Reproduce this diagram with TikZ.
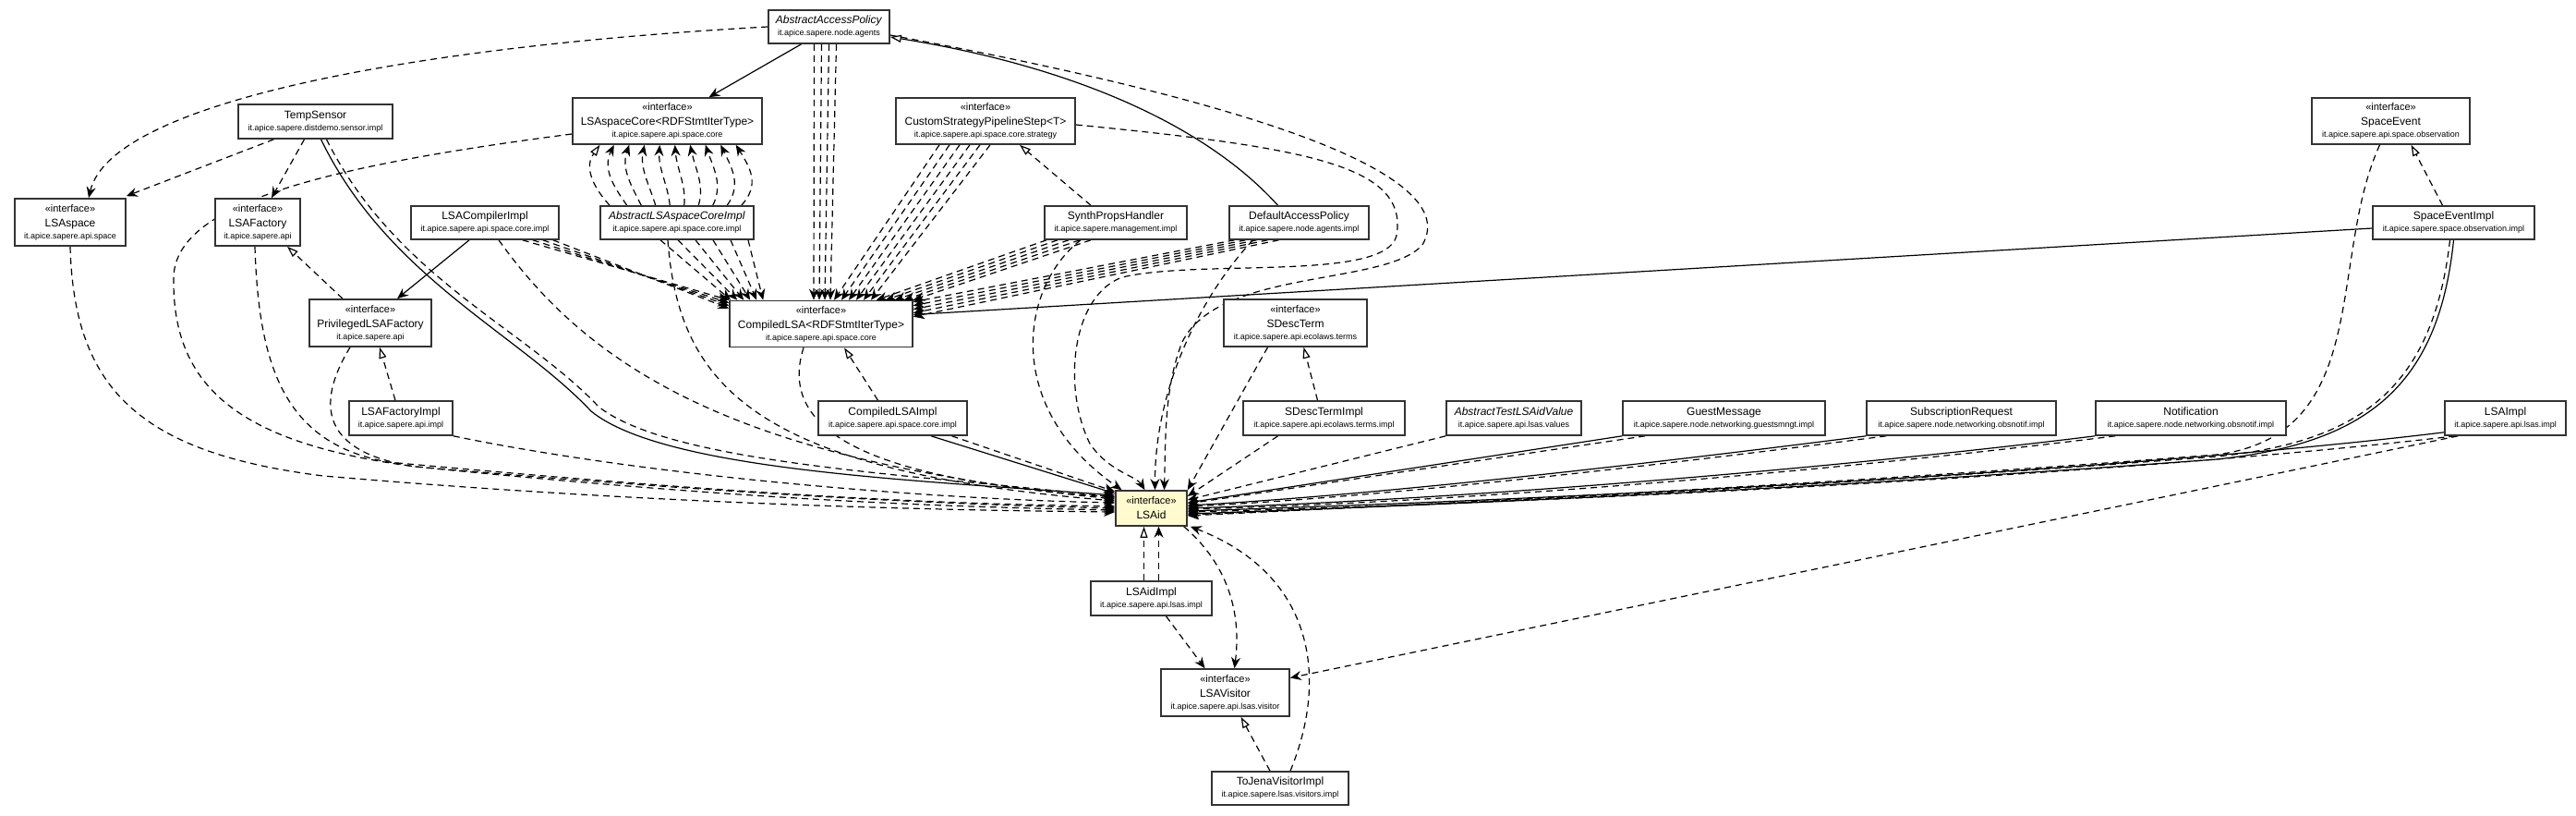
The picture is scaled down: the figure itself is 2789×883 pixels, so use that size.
\documentclass[tikz,border=0pt]{standalone}
\usepackage{fontspec}
\setmainfont{Liberation Sans}
\usetikzlibrary{arrows.meta}
\definecolor{lsaidfill}{RGB}{255,251,206}
\pgfdeclarelayer{bg}
\pgfsetlayers{bg,main}
\newcommand{\ifc}{{\fontsize{11}{12}\selectfont «interface»}}
\newcommand{\pkg}[1]{{\fontsize{9}{10}\selectfont #1}}
\tikzset{
  cls/.style={draw=black!80, line width=1.6pt, fill=white, inner sep=0pt, align=center, font=\fontsize{12}{13}\selectfont},
  dep/.style={dash pattern=on 7pt off 5pt, line width=1.2pt, -{Stealth[length=12pt,width=10pt,inset=4pt]}},
  real/.style={dash pattern=on 7pt off 5pt, line width=1.2pt, -{Triangle[open,length=12pt,width=8pt,fill=white]}},
  gen/.style={line width=1.2pt, -{Triangle[open,length=12pt,width=8pt,fill=white]}},
  assoc/.style={line width=1.2pt, -{Stealth[length=12pt,width=10pt,inset=4pt]}},
  solidln/.style={line width=1.2pt, -{Stealth[length=12pt,width=10pt,inset=4pt]}}
}
\begin{document}
\begin{tikzpicture}[x=1pt,y=-1pt]
\useasboundingbox (0,0) rectangle (2789,883);
% ---------------- nodes ----------------
\node[cls, minimum width=131pt, minimum height=36pt] (aap) at (897.5,29) {\textit{AbstractAccessPolicy}\\\pkg{it.apice.sapere.node.agents}};
\node[cls, minimum width=205pt, minimum height=50pt] (lsacore) at (722.5,131) {\ifc\\[3pt]LSAspaceCore<RDFStmtIterType>\\\pkg{it.apice.sapere.api.space.core}};
\node[cls, minimum width=194pt, minimum height=50pt] (csps) at (1067,131) {\ifc\\[3pt]CustomStrategyPipelineStep<T>\\\pkg{it.apice.sapere.api.space.core.strategy}};
\node[cls, minimum width=171pt, minimum height=50pt] (se) at (2588.5,131) {\ifc\\[3pt]SpaceEvent\\\pkg{it.apice.sapere.api.space.observation}};
\node[cls, minimum width=167pt, minimum height=37pt] (tsensor) at (341.5,131.5) {TempSensor\\\pkg{it.apice.sapere.distdemo.sensor.impl}};
\node[cls, minimum width=120pt, minimum height=51pt] (lsaspace) at (76,240.5) {\ifc\\[3pt]LSAspace\\\pkg{it.apice.sapere.api.space}};
\node[cls, minimum width=92pt, minimum height=51pt] (lsafactory) at (279,240.5) {\ifc\\[3pt]LSAFactory\\\pkg{it.apice.sapere.api}};
\node[cls, minimum width=160pt, minimum height=36pt] (lsaci) at (525,241) {LSACompilerImpl\\\pkg{it.apice.sapere.api.space.core.impl}};
\node[cls, minimum width=166pt, minimum height=36pt] (alsci) at (733,241) {\textit{AbstractLSAspaceCoreImpl}\\\pkg{it.apice.sapere.api.space.core.impl}};
\node[cls, minimum width=154pt, minimum height=36pt] (sph) at (1208,241) {SynthPropsHandler\\\pkg{it.apice.sapere.management.impl}};
\node[cls, minimum width=151pt, minimum height=36pt] (dap) at (1406.5,241) {DefaultAccessPolicy\\\pkg{it.apice.sapere.node.agents.impl}};
\node[cls, minimum width=175pt, minimum height=36pt] (sei) at (2656.5,241) {SpaceEventImpl\\\pkg{it.apice.sapere.space.observation.impl}};
\node[cls, minimum width=132pt, minimum height=51pt] (plf) at (401,349.5) {\ifc\\[3pt]PrivilegedLSAFactory\\\pkg{it.apice.sapere.api}};
\node[cls, minimum width=198pt, minimum height=50pt] (cl) at (889,350.5) {\ifc\\[3pt]CompiledLSA<RDFStmtIterType>\\\pkg{it.apice.sapere.api.space.core}};
\node[cls, minimum width=155pt, minimum height=51pt] (sdt) at (1402.5,349.5) {\ifc\\[3pt]SDescTerm\\\pkg{it.apice.sapere.api.ecolaws.terms}};
\node[cls, minimum width=112pt, minimum height=37pt] (lsafi) at (434,452.5) {LSAFactoryImpl\\\pkg{it.apice.sapere.api.impl}};
\node[cls, minimum width=161pt, minimum height=37pt] (cli) at (966.5,452.5) {CompiledLSAImpl\\\pkg{it.apice.sapere.api.space.core.impl}};
\node[cls, minimum width=175pt, minimum height=37pt] (sdti) at (1433.5,452.5) {SDescTermImpl\\\pkg{it.apice.sapere.api.ecolaws.terms.impl}};
\node[cls, minimum width=146pt, minimum height=37pt] (atlv) at (1639,452.5) {\textit{AbstractTestLSAidValue}\\\pkg{it.apice.sapere.api.lsas.values}};
\node[cls, minimum width=219pt, minimum height=37pt] (gm) at (1866.5,452.5) {GuestMessage\\\pkg{it.apice.sapere.node.networking.guestsmngt.impl}};
\node[cls, minimum width=205pt, minimum height=37pt] (sr) at (2123.5,452.5) {SubscriptionRequest\\\pkg{it.apice.sapere.node.networking.obsnotif.impl}};
\node[cls, minimum width=206pt, minimum height=37pt] (notif) at (2372,452.5) {Notification\\\pkg{it.apice.sapere.node.networking.obsnotif.impl}};
\node[cls, minimum width=131pt, minimum height=37pt] (lsaimpl) at (2712.5,452.5) {LSAImpl\\\pkg{it.apice.sapere.api.lsas.impl}};
\node[cls, fill=lsaidfill, minimum width=77pt, minimum height=38pt] (lsaid) at (1246.5,550) {\ifc\\[3pt]LSAid};
\node[cls, minimum width=131pt, minimum height=37pt] (lsaidimpl) at (1246.5,647.5) {LSAidImpl\\\pkg{it.apice.sapere.api.lsas.impl}};
\node[cls, minimum width=139pt, minimum height=51pt] (lsav) at (1326.5,749.5) {\ifc\\[3pt]LSAVisitor\\\pkg{it.apice.sapere.api.lsas.visitor}};
\node[cls, minimum width=148pt, minimum height=36pt] (tj) at (1386,853) {ToJenaVisitorImpl\\\pkg{it.apice.sapere.lsas.visitors.impl}};
% ---------------- edges ----------------
\begin{pgfonlayer}{bg}
% top area
\draw[assoc] ([xshift=-30pt]aap.south) -- ([xshift=45pt]lsacore.north);
\draw[gen] ([xshift=-23pt]dap.north) .. controls (1300,130) and (1150,70) .. ([yshift=-11pt]aap.east);
\draw[dep] (aap.west) .. controls (450,50) and (120,110) .. ([xshift=20pt]lsaspace.north);
\foreach \k in {0,...,3}{
  \pgfmathsetmacro\sx{-16+8*\k}
  \pgfmathsetmacro\ex{-8+6*\k}
  \draw[dep] ([xshift=\sx pt]aap.south) -- ([xshift=\ex pt]cl.north);
}
% swings into LSAid
\draw[dep] ([yshift=-9pt]aap.east) .. controls (1300,100) and (1590,180) .. (1540,265) .. controls (1500,310) and (1320,290) .. (1280,370) .. controls (1260,420) and (1262,480) .. ([xshift=14pt]lsaid.north);
\draw[dep] ([yshift=-4pt]csps.east) .. controls (1420,160) and (1525,180) .. (1512,255) .. controls (1500,305) and (1300,280) .. (1215,300) .. controls (1160,320) and (1150,420) .. (1180,480) .. controls (1200,510) and (1230,515) .. ([xshift=-7pt]lsaid.north);
\draw[dep] ([xshift=-38pt]sph.south) .. controls (1105,310) and (1085,440) .. ([xshift=-32pt]lsaid.north);
\draw[dep] ([xshift=-50pt]dap.south) .. controls (1300,320) and (1250,420) .. ([xshift=4pt]lsaid.north);
\draw[dep] ([xshift=-30pt]sdt.south) -- (lsaid.north east);
% TempSensor
\draw[dep] ([xshift=-45pt]tsensor.south) -- ([yshift=2pt]lsaspace.north east);
\draw[dep] ([xshift=-12pt]tsensor.south) -- ([xshift=15pt]lsafactory.north);
\draw[solidln] ([xshift=6pt]tsensor.south) .. controls (420,300) and (560,360) .. (640,445) .. controls (720,510) and (1000,520) .. ([yshift=14pt]lsaid.west);
\draw[dep] ([xshift=12pt]tsensor.south) .. controls (428,300) and (568,355) .. (648,440) .. controls (728,503) and (1000,514) .. ([yshift=12pt]lsaid.west);
% long left curves into LSAid
\draw[dep] ([yshift=-14pt]lsacore.west) .. controls (350,180) and (190,220) .. (188,300) .. controls (186,420) and (260,480) .. (450,505) .. controls (800,540) and (1000,548) .. ([yshift=-2pt]lsaid.west);
\draw[dep] (lsaspace.south) .. controls (80,420) and (150,490) .. (350,515) .. controls (700,545) and (1000,552) .. ([yshift=-4pt]lsaid.west);
\draw[dep] ([xshift=-3pt]lsafactory.south) .. controls (280,400) and (310,480) .. (420,500) .. controls (800,535) and (1000,545) .. ([yshift=2pt]lsaid.west);
\draw[dep] ([xshift=-22pt]plf.south) .. controls (340,440) and (350,490) .. (450,505) .. controls (800,535) and (1000,545) .. (lsaid.west);
\draw[dep] (lsafi.south east) .. controls (700,515) and (1000,540) .. ([yshift=6pt]lsaid.west);
\draw[dep] ([xshift=15pt]lsaci.south) .. controls (640,400) and (800,500) .. ([yshift=10pt]lsaid.west);
\draw[dep] ([xshift=-10pt]alsci.south) .. controls (735,420) and (820,510) .. ([yshift=8pt]lsaid.west);
\draw[dep] ([xshift=-19pt]cl.south) .. controls (840,470) and (950,520) .. ([yshift=12pt]lsaid.west);
\draw[solidln] ([xshift=41.5pt]cli.south) -- ([yshift=16pt]lsaid.west);
\draw[dep] ([xshift=64pt]cli.south) -- ([yshift=18pt]lsaid.west);
% factory side
\draw[assoc] ([xshift=-17pt]lsaci.south) -- ([xshift=29pt]plf.north);
\draw[real] ([xshift=-30pt]plf.north) -- ([xshift=32pt]lsafactory.south);
\draw[real] ([xshift=-6pt]lsafi.north) -- ([xshift=10pt]plf.south);
% realizations
\draw[real] ([xshift=-16pt]cli.north) -- ([xshift=25pt]cl.south);
\draw[real] ([xshift=-27pt]sph.north) -- ([xshift=37pt]csps.south);
\draw[real] ([xshift=-12pt]sei.north) -- ([xshift=22pt]se.south);
\draw[real] ([xshift=-7pt]sdti.north) -- ([xshift=9pt]sdt.south);
% AbstractLSAspaceCoreImpl -> LSAspaceCore
\draw[real] ([xshift=-73pt]alsci.north) .. controls (640,200) and (633,180) .. ([xshift=-73pt]lsacore.south);
\foreach \i in {1,...,9}{
  \pgfmathsetmacro\d{\i-4.5}
  \pgfmathsetmacro\sx{15.5*\d}
  \pgfmathsetmacro\ex{16.5*\d}
  \pgfmathsetmacro\cxa{733+20*\d}
  \pgfmathsetmacro\cxb{722.5+20*\d}
  \draw[dep] ([xshift=\sx pt]alsci.north) .. controls (\cxa,200) and (\cxb,182) .. ([xshift=\ex pt]lsacore.south);
}
% into CompiledLSA
\foreach \k in {0,...,5}{
  \pgfmathsetmacro\sx{-18+19*\k}
  \pgfmathsetmacro\ex{2+7*\k}
  \draw[dep] ([xshift=\sx pt]alsci.south) -- ([xshift=\ex pt]cl.north west);
}
\foreach \k in {0,...,3}{
  \pgfmathsetmacro\sx{-40+11*\k}
  \pgfmathsetmacro\ey{-3*\k}
  \draw[dep] ([xshift=\sx pt]lsaci.south east) -- ([yshift=\ey pt]cl.north west);
}
\foreach \k in {0,...,5}{
  \pgfmathsetmacro\sx{-50+11*\k}
  \pgfmathsetmacro\ex{14+8*\k}
  \draw[dep] ([xshift=\sx pt]csps.south) -- ([xshift=\ex pt]cl.north);
}
\foreach \k in {0,...,4}{
  \pgfmathsetmacro\sx{-75+12*\k}
  \pgfmathsetmacro\ex{-40+10*\k}
  \draw[dep] ([xshift=\sx pt]sph.south) -- ([xshift=\ex pt]cl.north east);
}
\foreach \k in {0,...,4}{
  \pgfmathsetmacro\sx{-70+12*\k}
  \pgfmathsetmacro\ey{-2-4*\k}
  \draw[dep] ([xshift=\sx pt]dap.south) -- ([yshift=\ey pt]cl.north east);
}
\draw[assoc] ([yshift=-6pt]sei.west) -- ([yshift=10pt]cl.east);
% right side into LSAid
\draw[dep] ([xshift=-50pt]sdti.south) -- ([yshift=13pt]lsaid.east);
\draw[dep] (atlv.south west) -- ([yshift=9pt]lsaid.east);
\draw[solidln] (gm.south west) -- ([yshift=6pt]lsaid.east);
\draw[dep] ([xshift=25pt]gm.south west) -- ([yshift=5pt]lsaid.east);
\draw[solidln] (sr.south west) .. controls (1800,500) and (1500,535) .. ([yshift=3pt]lsaid.east);
\draw[dep] ([xshift=22pt]sr.south west) .. controls (1800,503) and (1500,538) .. ([yshift=2pt]lsaid.east);
\draw[solidln] (notif.south west) .. controls (2000,505) and (1600,540) .. ([yshift=0pt]lsaid.east);
\draw[dep] ([xshift=22pt]notif.south west) .. controls (2000,508) and (1600,543) .. ([yshift=-1pt]lsaid.east);
\draw[solidln] ([yshift=4pt]lsaimpl.south west) .. controls (2300,510) and (1700,540) .. ([yshift=-3pt]lsaid.east);
\draw[dep] ([xshift=12pt]lsaimpl.south west) .. controls (2300,514) and (1700,543) .. ([yshift=-4pt]lsaid.east);
\draw[solidln] (sei.south) .. controls (2640,420) and (2560,480) .. (2400,497) .. controls (2000,527) and (1600,545) .. ([yshift=-6pt]lsaid.east);
\draw[dep] ([xshift=-4pt]sei.south) .. controls (2634,420) and (2556,478) .. (2400,494) .. controls (2000,525) and (1600,544) .. ([yshift=-7pt]lsaid.east);
\draw[dep] ([xshift=-12pt]se.south) .. controls (2520,280) and (2570,470) .. (2400,492) .. controls (2000,523) and (1600,543) .. ([yshift=-8pt]lsaid.east);
\draw[dep] ([xshift=15pt]lsaimpl.south west) -- ([yshift=16pt]lsav.east);
% bottom
\draw[real] ([xshift=-8pt]lsaidimpl.north) -- ([xshift=-8pt]lsaid.south);
\draw[dep] ([xshift=8pt]lsaidimpl.north) -- ([xshift=8pt]lsaid.south);
\draw[dep] ([xshift=16pt]lsaidimpl.south) -- ([xshift=-22pt]lsav.north);
\draw[dep] ([xshift=-4pt]lsaid.south east) .. controls (1340,620) and (1342,680) .. ([xshift=10pt]lsav.north);
\draw[dep] ([xshift=11pt]tj.north) .. controls (1440,730) and (1420,620) .. ([xshift=3pt]lsaid.south east);
\draw[real] ([xshift=-11pt]tj.north) -- ([xshift=17pt]lsav.south);
\end{pgfonlayer}
\end{tikzpicture}
\end{document}
